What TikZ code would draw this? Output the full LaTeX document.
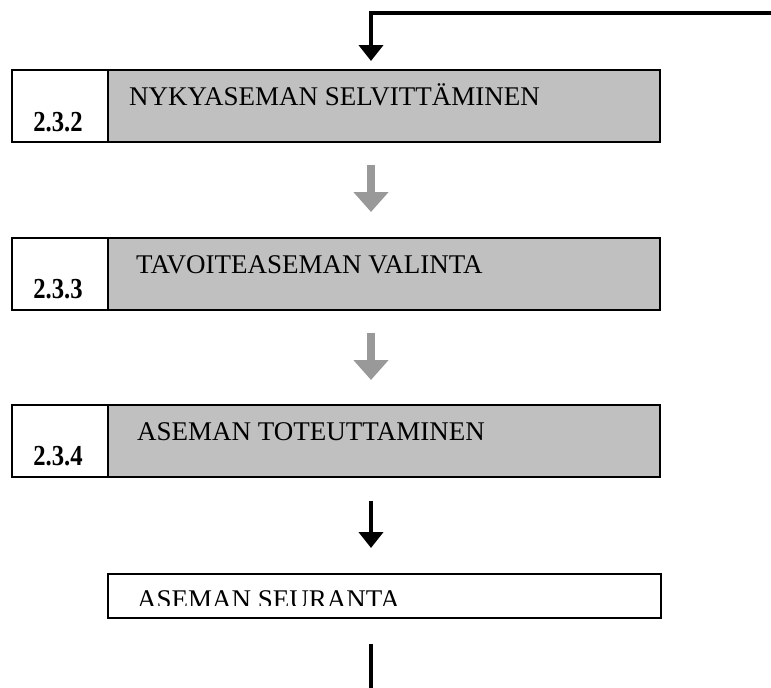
\documentclass[tikz,border=0pt]{standalone}
\usepackage{fontspec}
\setmainfont{Liberation Serif}
\usetikzlibrary{arrows.meta}
\definecolor{boxgray}{HTML}{C0C0C0}
\definecolor{arrowgray}{HTML}{999999}
\begin{document}
\begin{tikzpicture}[x=1pt,y=-1pt,
  graybox/.style={draw=black,line width=1.8pt,fill=boxgray,minimum width=552pt,minimum height=72pt,anchor=north west,inner sep=0pt},
  numbox/.style={draw=black,line width=1.8pt,fill=white,minimum width=96pt,minimum height=72pt,anchor=north west,inner sep=0pt},
  whitebox/.style={draw=black,line width=1.8pt,fill=white,minimum width=553pt,minimum height=44pt,anchor=north west,inner sep=0pt},
  titletext/.style={anchor=base west,inner sep=0pt,font=\fontsize{27}{30}\selectfont},
  numtext/.style={anchor=base,inner sep=0pt,font=\fontsize{29}{32}\selectfont\bfseries},
  blackarrow/.style={draw=black,line width=4pt,-{Triangle[length=16pt,width=24pt]}},
  grayarrow/.style={draw=arrowgray,line width=7.5pt,-{Triangle[length=20pt,width=34pt]}},
  plainline/.style={draw=black,line width=4pt}
]
\useasboundingbox (0,0) rectangle (771,688);

% boxes
\node[graybox] (b1) at (107,69) {};
\node[numbox] (n1) at (11,69) {};
\node[graybox] (b2) at (107,237) {};
\node[numbox] (n2) at (11,237) {};
\node[graybox] (b3) at (107,404) {};
\node[numbox] (n3) at (11,404) {};
\node[whitebox] (b4) at (107,573) {};

% texts
\node[titletext] (t1) at (129,105) {NYKYASEMAN SELVITTÄMINEN};
\node[titletext] (t2) at (136,273) {TAVOITEASEMAN VALINTA};
\node[titletext] (t3) at (137,440) {ASEMAN TOTEUTTAMINEN};
\node[numtext] (m1) at (58,131) {\scalebox{0.85}[1]{2.3.2}};
\node[numtext] (m2) at (58,298) {\scalebox{0.85}[1]{2.3.3}};
\node[numtext] (m3) at (58,465) {\scalebox{0.85}[1]{2.3.4}};
\begin{scope}
  \clip (107,573) rectangle (660,605.5);
  \node[titletext] (t4) at (137,608) {ASEMAN SEURANTA};
\end{scope}

% connectors
\coordinate (c0) at (771,13);
\coordinate (c1) at (371,61);
\draw[blackarrow] (c0) -| (c1);

\coordinate (g1s) at (371,165);
\coordinate (g1e) at (371,212);
\draw[grayarrow] (g1s) -- (g1e);

\coordinate (g2s) at (371,333);
\coordinate (g2e) at (371,380);
\draw[grayarrow] (g2s) -- (g2e);

\coordinate (k1s) at (371,501);
\coordinate (k1e) at (371,548);
\draw[blackarrow] (k1s) -- (k1e);

\coordinate (k2s) at (371,644);
\coordinate (k2e) at (371,688);
\draw[plainline] (k2s) -- (k2e);
\end{tikzpicture}
\end{document}
